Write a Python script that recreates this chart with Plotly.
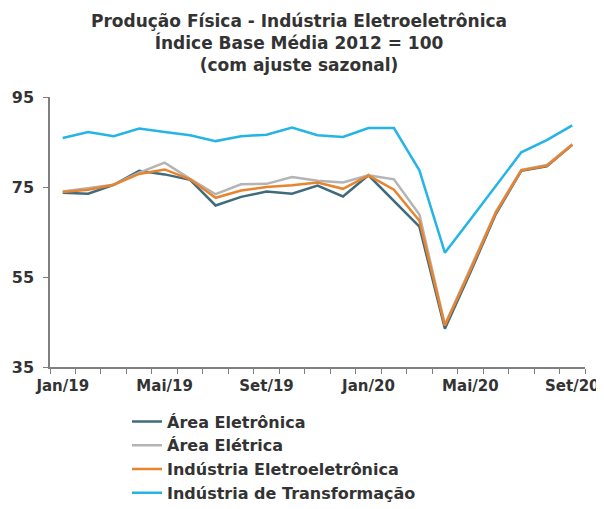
import plotly.graph_objects as go

months = ["Jan/19", "Fev/19", "Mar/19", "Abr/19", "Mai/19", "Jun/19", "Jul/19", "Ago/19",
          "Set/19", "Out/19", "Nov/19", "Dez/19", "Jan/20", "Fev/20", "Mar/20", "Abr/20",
          "Mai/20", "Jun/20", "Jul/20", "Ago/20", "Set/20"]

area_eletronica = [73.7, 73.5, 75.5, 78.6, 77.8, 76.6, 70.9, 72.8, 74.0, 73.5, 75.3, 72.9,
                   77.6, 71.8, 66.2, 43.5, 56.0, 69.0, 78.6, 79.6, 84.4]
area_eletrica = [74.0, 74.8, 75.5, 78.2, 80.4, 76.8, 73.4, 75.6, 75.7, 77.2, 76.4, 76.0,
                 77.6, 76.7, 68.9, 44.4, 56.8, 69.5, 78.8, 79.9, 84.5]
ind_eletroeletronica = [73.9, 74.4, 75.5, 77.9, 78.9, 76.7, 72.6, 74.2, 75.0, 75.4, 76.0, 74.6,
                        77.6, 74.4, 67.5, 44.2, 56.5, 69.3, 78.7, 79.7, 84.4]
ind_transformacao = [85.9, 87.2, 86.3, 88.0, 87.2, 86.5, 85.2, 86.3, 86.6, 88.2, 86.5, 86.1,
                     88.1, 88.1, 78.7, 60.4, 67.8, 75.3, 82.7, 85.4, 88.7]

series_names = ["Área Eletrônica", "Área Elétrica", "Indústria Eletroeletrônica",
                "Indústria de Transformação"]
series_values = [area_eletronica, area_eletrica, ind_eletroeletronica, ind_transformacao]
series_colors = ["#3f6b7d", "#b4b4b4", "#e8832e", "#25b4e6"]

title_lines = ["Produção Física - Indústria Eletroeletrônica",
               "Índice Base Média 2012 = 100",
               "(com ajuste sazonal)"]

y_ticks = [35, 55, 75, 95]
label_every = 4

x_idx = list(range(len(months)))
tick_idx = x_idx[::label_every]
tick_txt = months[::label_every]

FONT = "DejaVu Sans, Verdana, sans-serif"
TXT = "#333333"

# page body has an 8px default margin; figure sized to fill the rest of the window
W, H = 596, 501
ML, MR, MT, MB = 42, 19, 89, 142
PH = H - MT - MB
PW = W - ML - MR

fig = go.Figure()
for name, vals, col in zip(series_names, series_values, series_colors):
    fig.add_trace(go.Scatter(x=x_idx, y=vals, mode="lines", name="<b>%s</b>" % name,
                             line=dict(color=col, width=2.5)))

fig.add_annotation(
    text="<b>" + "<br>".join(title_lines) + "</b>",
    xref="paper", yref="paper",
    x=(291 - ML) / PW, xanchor="center",
    y=1 + (MT - 1) / PH, yanchor="top",
    showarrow=False, align="center",
    font=dict(family=FONT, size=17, color=TXT),
)

fig.update_layout(
    width=W, height=H,
    paper_bgcolor="white", plot_bgcolor="white",
    margin=dict(l=ML, r=MR, t=MT, b=MB, autoexpand=False),
    showlegend=True,
    legend=dict(
        x=(119 - ML) / PW, xanchor="left", y=-0.139, yanchor="top",
        font=dict(family=FONT, size=16, color=TXT),
        tracegroupgap=0, bgcolor="rgba(0,0,0,0)",
    ),
    xaxis=dict(
        automargin=False,
        range=[-0.5, len(months) - 0.5],
        tickmode="array", tickvals=tick_idx, ticktext=["<b>%s</b>" % t for t in tick_txt],
        ticks="", showgrid=False, zeroline=False,
        ticklabelstandoff=4,
        showline=True, linecolor="#7f7f7f", linewidth=1.5,
        tickfont=dict(family=FONT, size=15, color=TXT),
        minor=dict(tickmode="linear", tick0=-0.5, dtick=1, ticks="outside", ticklen=5,
                   tickcolor="#7f7f7f", tickwidth=1, showgrid=False),
    ),
    yaxis=dict(
        automargin=False,
        range=[35, 95], tickmode="array", tickvals=y_ticks,
        ticktext=["<b>%d</b>" % v for v in y_ticks],
        ticks="outside", ticklen=5, tickcolor="#7f7f7f",
        ticklabelstandoff=6,
        showgrid=False, zeroline=False,
        showline=True, linecolor="#7f7f7f", linewidth=1.5,
        tickfont=dict(family=FONT, size=16, color=TXT),
    ),
)

fig.write_html("out.html")
